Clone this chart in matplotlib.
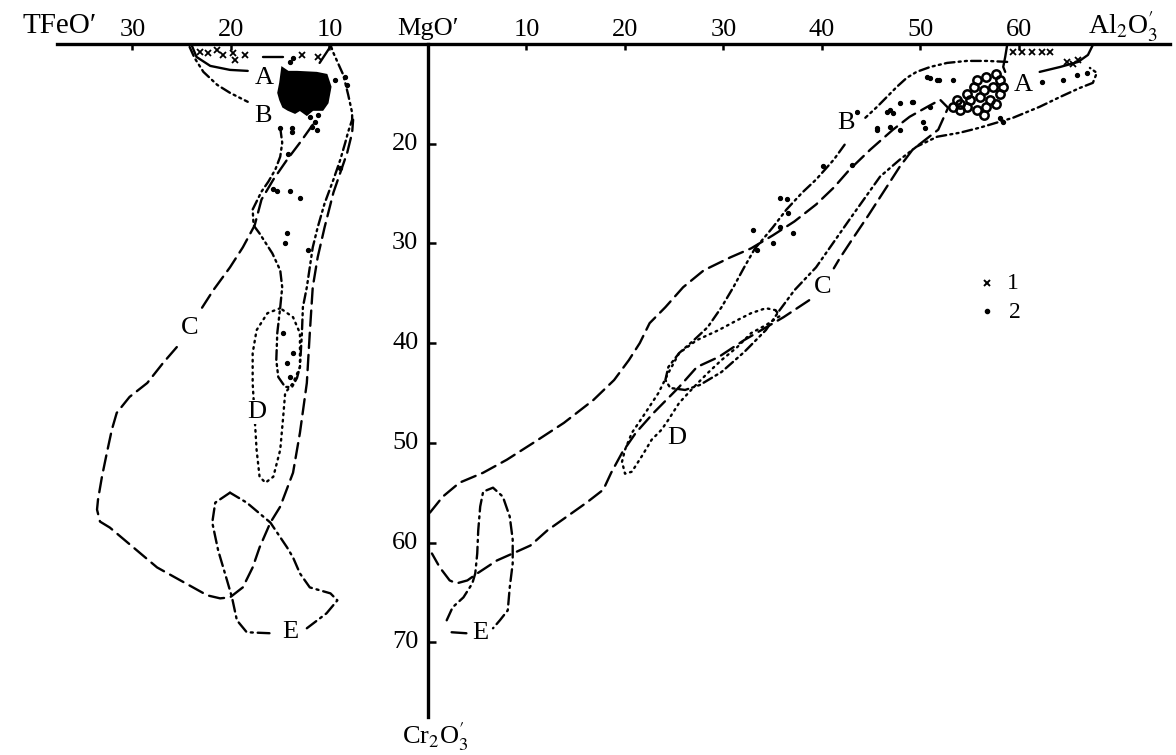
import matplotlib
matplotlib.use('Agg')
import matplotlib.pyplot as plt
from matplotlib.patches import Polygon
from matplotlib.lines import TICKDOWN, TICKRIGHT

plt.rcParams['font.family'] = ['Liberation Serif', 'DejaVu Serif']
plt.rcParams['mathtext.fontset'] = 'stix'
plt.rcParams['lines.scale_dashes'] = False

# ---------------- axis ticks ----------------
left_ticks = [10, 20, 30]                 # TFeO' (to the left)
right_ticks = [10, 20, 30, 40, 50, 60]    # Al2O3' (to the right)
down_ticks = [20, 30, 40, 50, 60, 70]     # Cr2O3' (downwards)
axis_top = 10.0
axis_left_end = 37.7
axis_right_end = 75.3
axis_bottom_end = 77.5

# ---------------- left panel: TFeO' , Cr2O3' ----------------
A_left_1_t = [24.0, 23.5, 22.1, 20.1, 18.3]
A_left_1_c = [10.1, 11.3, 12.2, 12.6, 12.7]
A_left_2_t = [11.0, 10.4, 9.8]
A_left_2_c = [11.9, 11.0, 10.1]
A_left_3_t = [16.8, 14.7]
A_left_3_c = [11.3, 11.3]

B_left_1_t = [24.2, 23.7, 22.8, 21.4, 20.1, 19.1, 18.3]
B_left_1_c = [10.3, 11.4, 12.8, 14.1, 14.9, 15.4, 15.8]
B_left_2_t = [15.0, 14.8, 15.0, 15.5, 16.2, 16.9, 17.4, 17.8, 17.7, 17.1, 15.8, 15.0, 14.8,
              15.0, 15.3, 15.4, 15.2, 14.5, 13.8, 13.3, 13.0, 12.8, 12.7, 12.3, 12.0, 11.7,
              11.2, 10.5, 9.6, 8.9, 8.4, 8.1, 7.7, 7.7, 8.1, 8.6, 9.6, 9.9]
B_left_2_c = [18.4, 19.9, 21.3, 22.6, 23.8, 24.8, 25.8, 26.6, 28.2, 29.0, 31.0, 32.7, 34.4,
              36.4, 39.0, 41.7, 43.4, 44.4, 44.4, 43.5, 42.4, 39.0, 36.4, 34.4, 32.4, 30.4,
              28.4, 26.0, 23.6, 21.6, 19.9, 18.8, 17.6, 16.9, 15.1, 13.1, 10.9, 10.1]

C_left_1_t = [11.7, 13.0, 14.3, 15.7, 16.9, 17.6, 18.8, 20.1, 21.8, 23.1]
C_left_1_c = [18.1, 19.9, 21.6, 23.6, 25.6, 28.2, 30.4, 32.4, 34.7, 36.7]
C_left_2_t = [25.5, 26.9, 28.5, 30.3, 31.6, 32.1, 32.6, 33.1, 33.5, 33.6, 33.3, 32.3, 27.5,
              22.4, 21.1, 20.1, 18.8, 17.8, 17.1, 16.0, 15.0, 13.7, 13.0, 12.3, 12.0, 11.7,
              11.2, 10.5, 9.6, 8.9, 8.2, 7.7, 7.6]
C_left_2_c = [40.4, 42.0, 44.0, 45.4, 47.0, 48.7, 51.0, 53.4, 55.7, 56.7, 57.9, 58.5, 62.5,
              65.3, 65.6, 65.5, 64.5, 62.5, 60.5, 58.0, 56.4, 53.0, 49.0, 44.0, 39.0, 34.4,
              31.4, 28.4, 24.9, 22.9, 20.9, 18.9, 17.6]

D_left_t = [15.0, 16.3, 17.4, 17.8, 17.8, 17.6, 17.4, 17.1, 16.5, 15.7, 15.0, 14.7, 14.5,
            13.7, 13.0, 13.0, 13.7, 15.0]
D_left_c = [36.5, 37.0, 38.7, 41.0, 44.0, 47.4, 50.7, 53.4, 54.0, 53.4, 50.7, 47.4, 45.0,
            44.0, 42.4, 39.0, 37.4, 36.5]

E_left_1_t = [20.1, 21.6, 21.9, 21.3, 20.4, 19.9, 19.4, 18.4, 16.0]
E_left_1_c = [55.0, 56.0, 58.0, 60.8, 63.8, 65.5, 67.8, 69.0, 69.1]
E_left_2_t = [12.3, 10.3, 9.2, 9.9, 12.0, 13.0, 13.7, 14.3, 16.0, 18.4, 20.1]
E_left_2_c = [68.6, 67.1, 65.8, 65.1, 64.5, 63.1, 61.5, 60.5, 58.0, 56.0, 55.0]

blob_t = [14.8, 14.2, 13.3, 11.3, 10.3, 9.9, 10.2, 10.7, 11.7, 12.3, 13.0, 13.5, 14.2, 14.7,
          15.0, 15.2, 15.0]
blob_c = [12.4, 12.8, 12.8, 12.9, 13.1, 14.3, 15.9, 16.6, 16.6, 17.1, 16.6, 16.9, 16.6, 16.3,
          15.6, 14.9, 13.9]

x1_left_t = [23.1, 22.3, 21.4, 20.8, 19.8, 19.6, 18.6, 12.8, 11.2]
x1_left_c = [10.8, 10.9, 10.6, 11.1, 10.9, 11.6, 11.1, 11.1, 11.3]

dots_left_t = [13.7, 14.0, 9.4, 8.4, 8.2, 12.0, 11.5, 11.2, 11.8, 13.8, 15.0, 11.3, 13.8, 14.2,
               15.7, 15.3, 14.0, 13.0, 14.3, 14.5, 12.2, 14.7, 14.3, 14.0, 13.7, 8.9]
dots_left_c = [11.4, 11.8, 13.6, 13.3, 14.1, 17.3, 17.8, 17.1, 18.3, 18.4, 18.4, 18.6, 18.8,
               21.0, 24.5, 24.7, 24.7, 25.4, 29.0, 30.0, 30.7, 39.0, 42.0, 43.4, 41.0, 22.4]

# ---------------- right panel: Al2O3' , Cr2O3' ----------------
A_right_1_a = [58.8, 58.6, 58.4, 58.6]
A_right_1_c = [10.1, 11.3, 12.3, 12.8]
A_right_2_a = [67.5, 67.0, 66.0, 64.2, 62.1]
A_right_2_c = [10.1, 11.1, 11.8, 12.3, 12.8]

B_right_1_a = [58.8, 56.8, 54.7, 52.7, 51.0, 49.6, 48.6, 47.6, 46.6, 45.6, 44.4]
B_right_1_c = [11.8, 11.7, 11.7, 11.9, 12.3, 12.8, 13.4, 14.3, 15.3, 16.3, 17.4]
B_right_2_a = [42.3, 41.2, 39.4, 38.0, 36.4, 35.0, 33.9, 33.2, 32.1, 31.0, 29.8, 28.4, 27.0,
               25.5, 24.4, 24.1, 24.6, 26.1, 27.6, 29.8, 32.1, 34.3, 35.7, 37.2, 39.4, 42.8,
               45.9, 47.9, 49.6, 51.7, 54.0, 56.0, 59.4, 62.1, 64.2, 66.2, 67.5, 67.9, 67.2]
B_right_2_c = [20.1, 21.6, 23.6, 24.9, 26.6, 28.4, 29.7, 30.5, 32.4, 34.4, 36.4, 38.4, 39.7,
               41.0, 42.4, 43.7, 44.5, 44.7, 44.2, 42.9, 40.9, 38.7, 36.7, 34.7, 32.4, 27.6,
               23.3, 21.6, 20.3, 19.3, 18.9, 18.4, 17.4, 16.3, 15.3, 14.4, 13.9, 12.9, 12.4]

C_right_1_a = [0.2, 1.5, 3.2, 5.6, 8.0, 10.7, 13.8, 16.8, 18.9, 20.4, 21.5, 22.5, 24.1, 25.9,
               28.0, 30.7, 32.8, 35.0, 37.2, 39.4, 41.2, 42.8, 44.9, 47.2, 48.9, 50.7, 52.0,
               52.8, 51.8, 50.5, 49.2, 47.9, 46.4, 44.7, 43.0, 41.8, 41.2]
C_right_1_c = [57.0, 55.4, 54.0, 53.0, 51.7, 50.0, 48.0, 45.7, 43.7, 41.7, 40.0, 38.0, 36.4,
               34.4, 32.7, 31.4, 30.5, 29.2, 27.8, 26.1, 24.4, 22.6, 20.6, 18.6, 17.3, 16.3,
               15.6, 16.4, 18.6, 19.6, 20.6, 22.3, 24.6, 27.2, 29.7, 31.5, 32.5]
C_right_2_a = [38.7, 36.1, 32.1, 29.5, 27.3, 25.5, 22.9, 21.1, 19.7, 18.6, 17.8, 16.1, 14.1,
               12.1, 10.4, 8.6, 7.0, 5.0, 4.0, 2.9, 2.2, 1.2, 0.4]
C_right_2_c = [35.7, 37.4, 39.7, 41.4, 42.4, 44.4, 47.0, 49.0, 51.0, 53.0, 54.7, 56.0, 57.4,
               58.8, 60.3, 61.1, 61.8, 63.1, 63.8, 64.1, 63.8, 62.5, 61.1]

D_right_a = [35.3, 34.3, 32.8, 31.4, 29.5, 27.3, 25.5, 24.4, 23.4, 21.8, 20.7, 20.0, 19.7,
             20.0, 20.7, 21.8, 22.7, 23.7, 24.4, 25.5, 27.0, 28.4, 29.8, 31.4, 32.8, 34.3,
             35.7, 35.3]
D_right_c = [36.7, 36.5, 37.0, 37.7, 38.7, 39.7, 41.0, 43.0, 45.0, 47.4, 49.0, 50.7, 51.9,
             53.1, 52.9, 51.2, 49.7, 48.7, 47.7, 46.0, 44.4, 43.0, 41.7, 40.4, 39.0, 38.2,
             37.3, 36.7]

E_right_1_a = [1.9, 2.5, 3.6, 4.5, 4.8, 5.0, 5.1, 5.3, 5.6, 6.6, 7.6, 8.3, 8.6, 8.6, 8.3, 8.1,
               7.3, 6.6]
E_right_1_c = [67.8, 66.5, 65.5, 64.1, 63.1, 61.1, 58.8, 56.4, 54.9, 54.5, 55.4, 57.4, 59.7,
               62.1, 64.5, 66.8, 67.8, 68.6]
E_right_2_a = [2.4, 3.9]
E_right_2_c = [69.0, 69.1]

x1_right_a = [59.4, 60.3, 61.3, 62.3, 63.1, 64.9, 66.0, 65.5]
x1_right_c = [10.8, 10.8, 10.8, 10.8, 10.8, 11.8, 11.6, 12.0]

cluster_a = [55.7, 56.7, 57.7, 58.1, 57.4, 56.4, 55.4, 54.7, 53.7, 53.3, 54.0, 55.0, 56.0, 57.1,
             58.1, 57.7, 56.7, 55.7, 54.7, 56.4, 54.0, 58.4]
cluster_c = [13.6, 13.3, 13.0, 13.6, 14.3, 14.6, 14.3, 15.0, 15.6, 16.3, 16.0, 15.6, 15.3, 15.6,
             15.0, 16.0, 16.3, 16.6, 16.3, 17.1, 16.6, 14.3]

dots_right_a = [51.0, 51.7, 53.3, 62.3, 64.5, 65.9, 66.9, 58.1, 58.4, 49.1, 51.0, 46.9, 45.6,
                50.3, 50.5, 43.6, 42.5, 40.1, 35.7, 36.4, 36.5, 35.7, 37.1, 35.0, 33.4, 33.0,
                47.9, 46.9, 47.9, 49.2, 50.7, 51.9, 45.6, 46.6, 47.2, 43.0]
dots_right_c = [13.4, 13.6, 13.6, 13.8, 13.6, 13.1, 12.9, 17.4, 17.8, 15.8, 16.3, 16.6, 18.4,
                17.8, 18.4, 16.8, 18.6, 22.2, 25.4, 25.5, 27.0, 28.4, 29.0, 30.0, 30.7, 28.7,
                15.9, 18.3, 18.6, 15.8, 13.3, 13.6, 18.6, 16.8, 16.9, 22.1]

field_labels_left = {'A': (16.6, 13.4), 'B': (16.8, 17.2), 'C': (24.2, 38.5),
                     'D': (17.4, 46.9), 'E': (14.0, 69.0)}
field_labels_right = {'A': (60.4, 14.1), 'B': (42.4, 17.9), 'C': (40.1, 34.4),
                      'D': (25.3, 49.5), 'E': (5.3, 69.1)}
legend_items = ['1', '2']

# ---------------- styles ----------------
LW = 1.7
ST_A = '-'
ST_B = (0, (7, 3, 1.5, 3, 1.5, 3))
ST_C = (0, (11, 5))
ST_D = (0, (1.2, 3.4))
ST_E = (0, (8.5, 3.5, 1.5, 3.5))
FS = 19

fig = plt.figure(figsize=(11.76, 7.55), dpi=100)
ax = fig.add_axes([0, 0, 1, 1])
ax.set_xlim(-43.45, 75.94)
ax.set_ylim(81.31, 5.59)
ax.axis('off')

def neg(v):
    return [-x for x in v]

def line(x, y, ls, lw=LW):
    ax.plot(x, y, color='black', lw=lw, linestyle=ls, dash_capstyle='round',
            solid_capstyle='round')

# axes
ax.plot([-axis_left_end, axis_right_end], [axis_top, axis_top], color='black', lw=2.4)
ax.plot([0, 0], [axis_top, axis_bottom_end], color='black', lw=2.4)
ax.plot(neg(left_ticks), [axis_top] * len(left_ticks), ls='none', marker=TICKDOWN,
        ms=4, mew=1.8, color='black')
ax.plot(right_ticks, [axis_top] * len(right_ticks), ls='none', marker=TICKDOWN,
        ms=4, mew=1.8, color='black')
ax.plot([0] * len(down_ticks), down_ticks, ls='none', marker=TICKRIGHT,
        ms=6, mew=1.8, color='black')

for t in left_ticks:
    ax.annotate(str(t), (-t, axis_top), xytext=(0, 6), textcoords='offset points',
                ha='center', va='baseline', fontsize=FS)
for t in right_ticks:
    ax.annotate(str(t), (t, axis_top), xytext=(0, 6), textcoords='offset points',
                ha='center', va='baseline', fontsize=FS)
for t in down_ticks:
    ax.annotate(str(t), (0, t), xytext=(-7, 0), textcoords='offset points',
                ha='right', va='center', fontsize=FS)

ax.text(-33.6, 8.9, 'TFeO\u2032', ha='right', va='baseline', fontsize=21)
ax.text(0, 9.1, 'MgO\u2032', ha='center', va='baseline', fontsize=FS)
ax.text(67.0, 9.1, r'Al$_2$O$_3^{\prime}$', ha='left', va='baseline', fontsize=20)
ax.text(0.7, 79.5, r'Cr$_2$O$_3^{\prime}$', ha='center', va='center', fontsize=FS)

# left panel
line(neg(A_left_1_t), A_left_1_c, ST_A)
line(neg(A_left_2_t), A_left_2_c, ST_A)
line(neg(A_left_3_t), A_left_3_c, ST_A)
line(neg(B_left_1_t), B_left_1_c, ST_B)
line(neg(B_left_2_t), B_left_2_c, ST_B)
line(neg(C_left_1_t), C_left_1_c, ST_C)
line(neg(C_left_2_t), C_left_2_c, ST_C)
line(neg(D_left_t), D_left_c, ST_D)
line(neg(E_left_1_t), E_left_1_c, ST_E)
line(neg(E_left_2_t), E_left_2_c, ST_E)
ax.add_patch(Polygon(list(zip(neg(blob_t), blob_c)), closed=True, facecolor='black',
                     edgecolor='black', lw=1.5))
ax.plot(neg(x1_left_t), x1_left_c, ls='none', marker='x', ms=4.5, mew=1.3, color='black')
ax.plot(neg(dots_left_t), dots_left_c, ls='none', marker='o', ms=2.8, color='black')

# right panel
line(A_right_1_a, A_right_1_c, ST_A)
line(A_right_2_a, A_right_2_c, ST_A)
line(B_right_1_a, B_right_1_c, ST_B)
line(B_right_2_a, B_right_2_c, ST_B)
line(C_right_1_a, C_right_1_c, ST_C)
line(C_right_2_a, C_right_2_c, ST_C)
line(D_right_a, D_right_c, ST_D)
line(E_right_1_a, E_right_1_c, ST_E)
line(E_right_2_a, E_right_2_c, ST_A)
ax.plot(x1_right_a, x1_right_c, ls='none', marker='x', ms=4.5, mew=1.3, color='black')
ax.plot(cluster_a, cluster_c, ls='none', marker='o', ms=6, mfc='none', mew=1.8, color='black')
ax.plot(dots_right_a, dots_right_c, ls='none', marker='o', ms=2.8, color='black')

for k, (t, c) in field_labels_left.items():
    ax.text(-t, c, k, ha='center', va='center', fontsize=FS,
            bbox=dict(facecolor='white', edgecolor='none', pad=0.5))
for k, (a, c) in field_labels_right.items():
    ax.text(a, c, k, ha='center', va='center', fontsize=FS,
            bbox=dict(facecolor='white', edgecolor='none', pad=0.5))

# legend
ax.plot([56.8], [34.0], ls='none', marker='x', ms=5, mew=1.4, color='black')
ax.plot([56.8], [36.8], ls='none', marker='o', ms=3, color='black')
ax.text(59.4, 34.0, legend_items[0], ha='center', va='center', fontsize=FS - 2)
ax.text(59.6, 36.9, legend_items[1], ha='center', va='center', fontsize=FS - 2)

fig.savefig('out.png', dpi=100, facecolor='white')
